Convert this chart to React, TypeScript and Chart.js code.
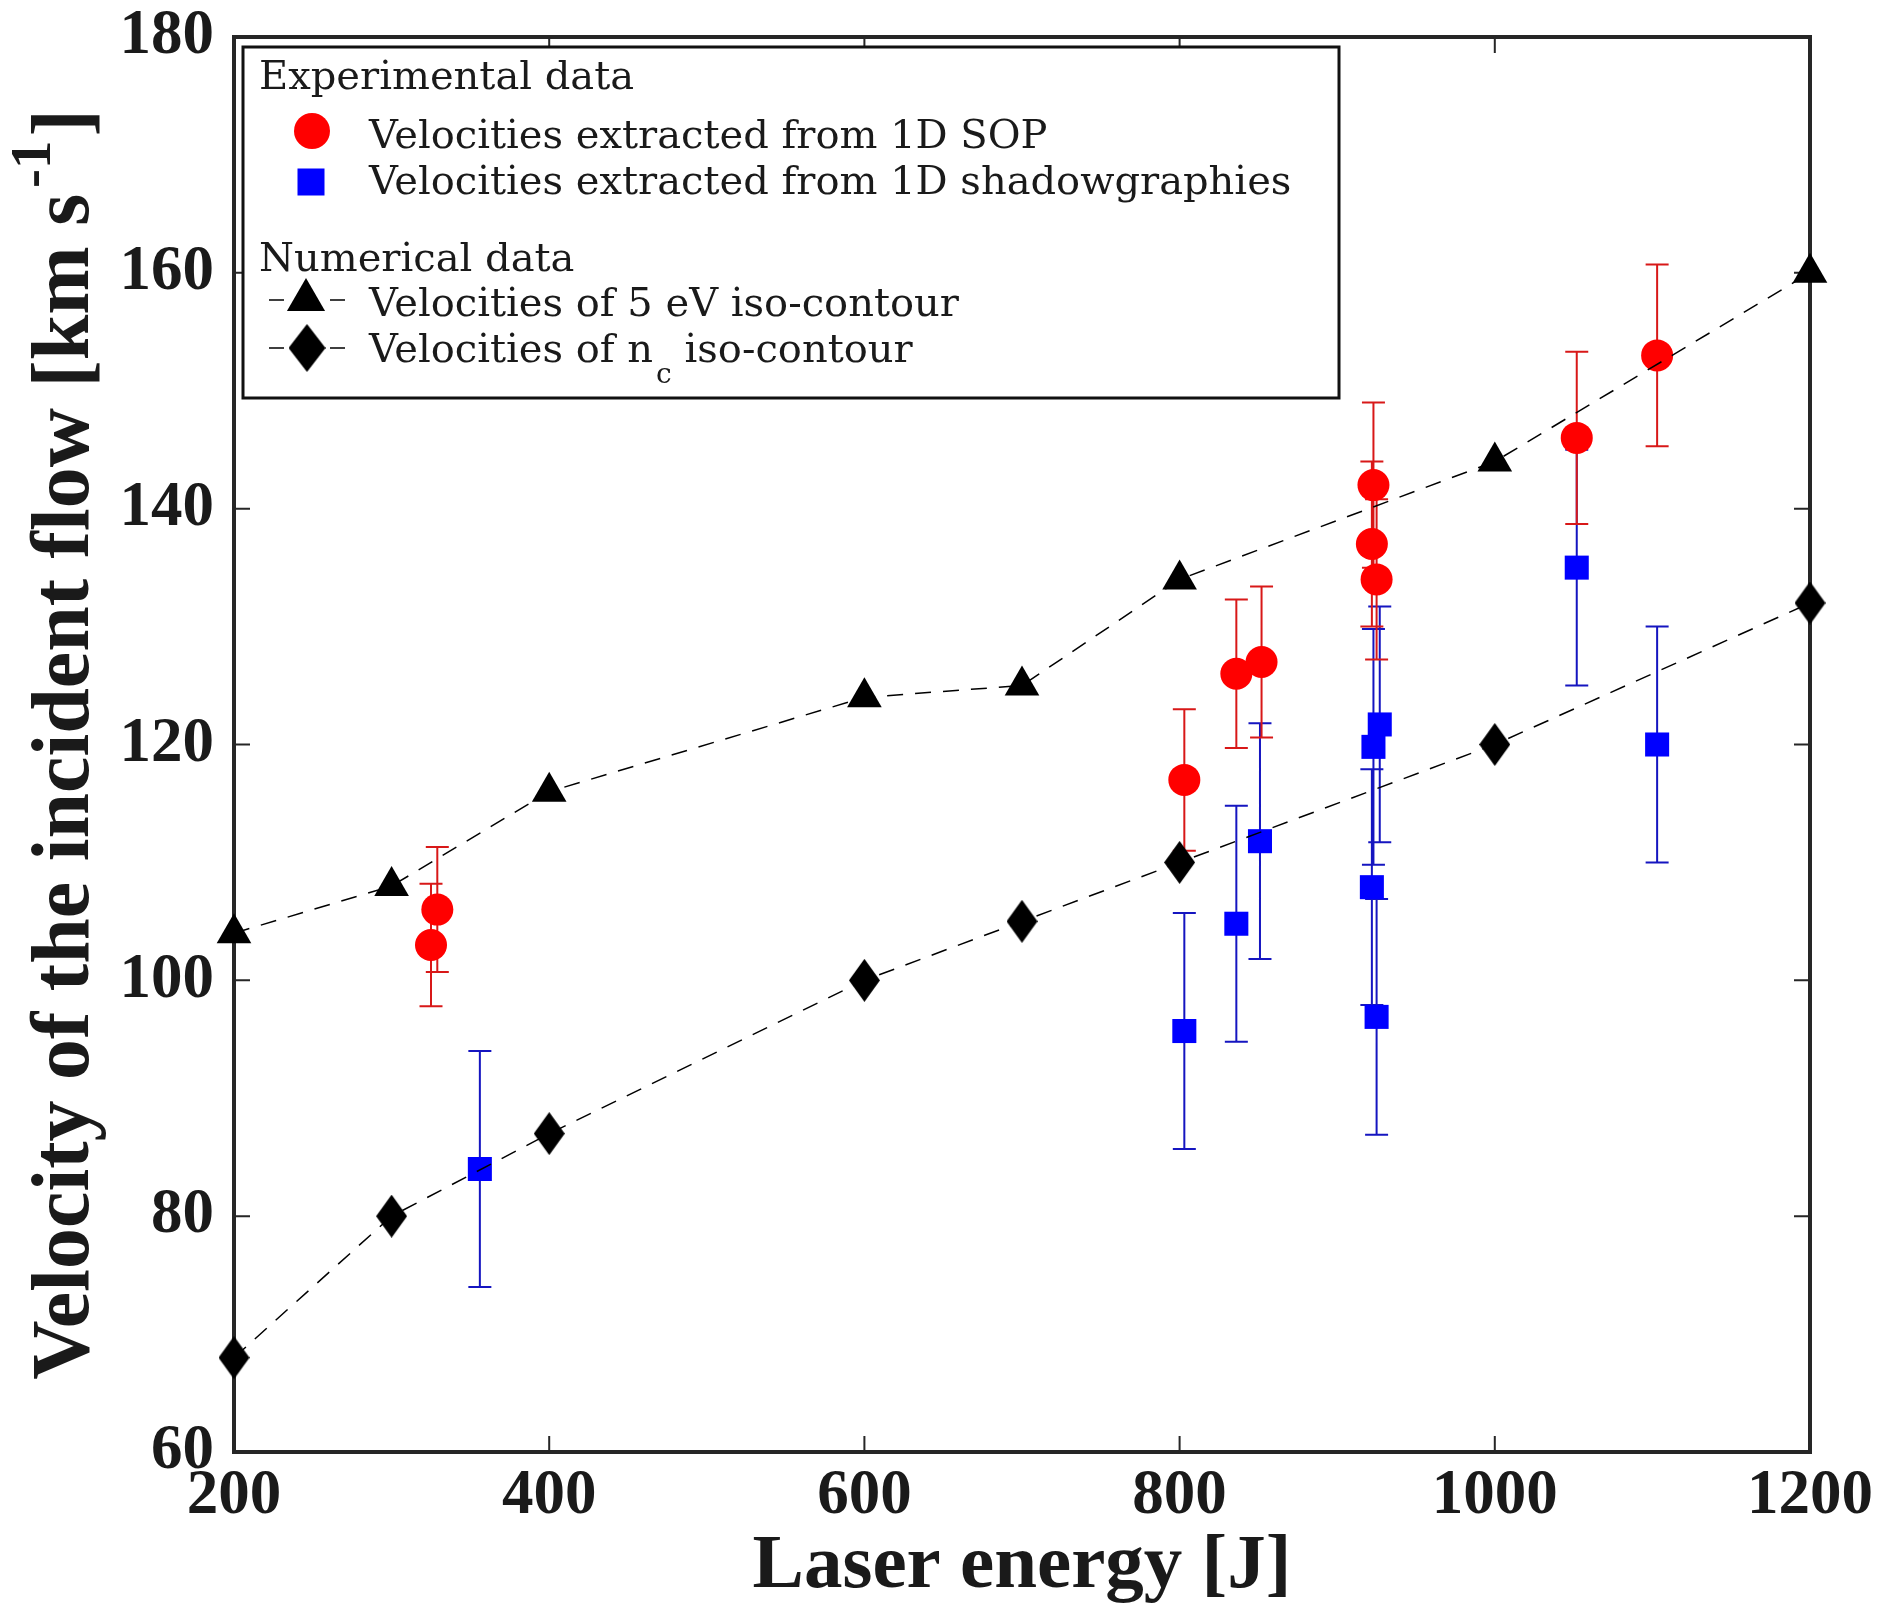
import { useEffect, useRef } from 'react';
import { Chart, registerables } from 'chart.js';

Chart.register(...registerables);

// Numerical data (simulation iso-contours)
const simEnergy = [200, 300, 400, 600, 700, 800, 1000, 1200];
const sim5eV = [104, 108, 116, 124, 125, 134, 144, 160];
const simNc = [68, 80, 87, 100, 105, 110, 120, 132];

// Experimental data: 1D SOP
const sopEnergy = [325, 329, 803, 836, 852, 923, 922, 925, 1052, 1103];
const sopVelocity = [103, 106, 117, 126, 127, 142, 137, 134, 146, 153];
const sopError = [5.2, 5.3, 6, 6.3, 6.4, 7, 7, 6.8, 7.3, 7.7];

// Experimental data: 1D shadowgraphies
const shadowEnergy = [356, 803, 836, 851, 923, 927, 922, 925, 1052, 1103];
const shadowVelocity = [84, 95.7, 104.8, 111.8, 119.8, 121.7, 107.9, 96.9, 135, 120];
const shadowError = [10, 10, 10, 10, 10, 10, 10, 10, 10, 10];

const xTicks = [200, 400, 600, 800, 1000, 1200];
const yTicks = [60, 80, 100, 120, 140, 160, 180];

const SERIF = '"Liberation Serif", "Times New Roman", serif';
const LEGEND_SERIF = '"DejaVu Serif", serif';
const INK = '#1a1a1a';

const toPoints = (xs: number[], ys: number[]) => xs.map((x, i) => ({ x, y: ys[i] }));

// tall diamond marker, like matlab's 'd'
function makeDiamond(w: number, h: number) {
  const c = document.createElement('canvas');
  c.width = w;
  c.height = h;
  const g = c.getContext('2d')!;
  g.fillStyle = '#000';
  g.beginPath();
  g.moveTo(w / 2, 0);
  g.lineTo(w, h / 2);
  g.lineTo(w / 2, h);
  g.lineTo(0, h / 2);
  g.closePath();
  g.fill();
  return c;
}

let legendDiamond: HTMLCanvasElement | null = null;

const framePlugin = {
  id: 'frameAndErrors',
  beforeDatasetsDraw(chart: any) {
    const { ctx, chartArea: a, scales } = chart;
    const xs = scales.x;
    const ys = scales.y;
    ctx.save();

    // axes box
    ctx.strokeStyle = '#262626';
    ctx.lineWidth = 4;
    ctx.strokeRect(a.left, a.top, a.right - a.left, a.bottom - a.top);

    // inward ticks on all four sides
    ctx.lineWidth = 2;
    ctx.beginPath();
    xTicks.forEach((v) => {
      const px = xs.getPixelForValue(v);
      ctx.moveTo(px, a.bottom);
      ctx.lineTo(px, a.bottom - 16);
      ctx.moveTo(px, a.top);
      ctx.lineTo(px, a.top + 16);
    });
    yTicks.forEach((v) => {
      const py = ys.getPixelForValue(v);
      ctx.moveTo(a.left, py);
      ctx.lineTo(a.left + 16, py);
      ctx.moveTo(a.right, py);
      ctx.lineTo(a.right - 16, py);
    });
    ctx.stroke();

    // error bars
    chart.data.datasets.forEach((ds: any) => {
      if (!ds.errorBars) return;
      ctx.strokeStyle = ds.errorColor;
      ctx.lineWidth = 2;
      ctx.beginPath();
      ds.data.forEach((p: { x: number; y: number }, i: number) => {
        const e = ds.errorBars[i];
        const px = xs.getPixelForValue(p.x);
        const top = ys.getPixelForValue(p.y + e);
        const bot = ys.getPixelForValue(p.y - e);
        ctx.moveTo(px, top);
        ctx.lineTo(px, bot);
        ctx.moveTo(px - 11.5, top);
        ctx.lineTo(px + 11.5, top);
        ctx.moveTo(px - 11.5, bot);
        ctx.lineTo(px + 11.5, bot);
      });
      ctx.stroke();
    });
    ctx.restore();
  },
};

const titlesAndLegend = {
  id: 'titlesAndLegend',
  afterDraw(chart: any) {
    const { ctx, chartArea: a } = chart;
    if (!legendDiamond) legendDiamond = makeDiamond(37, 48);
    const diamond = legendDiamond;
    ctx.save();
    ctx.fillStyle = INK;
    ctx.textBaseline = 'alphabetic';

    // x title
    ctx.font = `bold 77px ${SERIF}`;
    ctx.textAlign = 'center';
    ctx.fillText('Laser energy [J]', (a.left + a.right) / 2, 1587);

    // y title with superscript
    ctx.save();
    ctx.translate(88, (a.top + a.bottom) / 2);
    ctx.rotate(-Math.PI / 2);
    ctx.textAlign = 'left';
    const main = 'Velocity of the incident flow [km s';
    ctx.font = `bold 82px ${SERIF}`;
    const w1 = ctx.measureText(main).width;
    const w3 = ctx.measureText(']').width;
    ctx.font = `bold 57px ${SERIF}`;
    const w2 = ctx.measureText('-1').width;
    let cx = -(w1 + 6 + w2 + 4 + w3) / 2;
    ctx.font = `bold 82px ${SERIF}`;
    ctx.fillText(main, cx, 0);
    cx += w1 + 6;
    ctx.font = `bold 57px ${SERIF}`;
    ctx.fillText('-1', cx, -38);
    cx += w2 + 4;
    ctx.font = `bold 82px ${SERIF}`;
    ctx.fillText(']', cx, 0);
    ctx.restore();

    // legend box
    ctx.fillStyle = '#fff';
    ctx.fillRect(243, 47, 1096, 351);
    ctx.strokeStyle = '#111';
    ctx.lineWidth = 3;
    ctx.strokeRect(243, 47, 1096, 351);

    ctx.fillStyle = INK;
    ctx.textAlign = 'left';
    ctx.font = `40px ${LEGEND_SERIF}`;
    ctx.fillText('Experimental data', 259, 89);
    ctx.fillText('Velocities extracted from 1D SOP', 369, 148);
    ctx.fillText('Velocities extracted from 1D shadowgraphies', 369, 194);
    ctx.fillText('Numerical data', 259, 271);
    ctx.fillText('Velocities of 5 eV iso-contour', 369, 316);
    const pre = 'Velocities of n';
    ctx.fillText(pre, 369, 362);
    const wp = ctx.measureText(pre).width;
    ctx.font = `28px ${LEGEND_SERIF}`;
    ctx.fillText('c', 369 + wp + 3, 383);
    const wc = ctx.measureText('c').width;
    ctx.font = `40px ${LEGEND_SERIF}`;
    ctx.fillText(' iso-contour', 369 + wp + 3 + wc, 362);

    // legend markers
    ctx.fillStyle = '#ff0000';
    ctx.beginPath();
    ctx.arc(312, 131, 18, 0, Math.PI * 2);
    ctx.fill();
    ctx.fillStyle = '#0000ff';
    ctx.fillRect(311 - 13.5, 182 - 13.5, 27, 27);

    ctx.strokeStyle = '#000';
    ctx.lineWidth = 1.5;
    ctx.beginPath();
    [300, 348].forEach((yy) => {
      ctx.moveTo(269, yy);
      ctx.lineTo(284, yy);
      ctx.moveTo(330, yy);
      ctx.lineTo(345, yy);
    });
    ctx.stroke();

    ctx.fillStyle = '#000';
    const r = 22;
    ctx.beginPath();
    ctx.moveTo(306, 300 - r);
    ctx.lineTo(306 + r * 0.866, 300 + r / 2);
    ctx.lineTo(306 - r * 0.866, 300 + r / 2);
    ctx.closePath();
    ctx.fill();
    ctx.drawImage(diamond, 307 - diamond.width / 2, 348 - diamond.height / 2);

    ctx.restore();
  },
};

export default function App() {
  const canvasRef = useRef<HTMLCanvasElement | null>(null);

  useEffect(() => {
    document.body.style.margin = '0';
    if (!canvasRef.current) return;

    const diamond = makeDiamond(31, 43);

    const chart: any = new Chart(canvasRef.current, {
      type: 'line',
      data: {
        datasets: [
          {
            label: 'Velocities of 5 eV iso-contour',
            data: toPoints(simEnergy, sim5eV),
            borderColor: '#000',
            borderWidth: 1.5,
            borderDash: [16, 12],
            pointStyle: 'triangle',
            pointRadius: 20,
            pointBackgroundColor: '#000',
            pointBorderWidth: 0,
            clip: false,
            order: 0,
          },
          {
            label: 'Velocities of n_c iso-contour',
            data: toPoints(simEnergy, simNc),
            borderColor: '#000',
            borderWidth: 1.5,
            borderDash: [16, 12],
            pointStyle: diamond,
            pointRadius: 20,
            pointBorderWidth: 0,
            clip: false,
            order: 1,
          },
          {
            type: 'scatter',
            label: 'Velocities extracted from 1D shadowgraphies',
            data: toPoints(shadowEnergy, shadowVelocity),
            errorBars: shadowError,
            errorColor: '#1515c0',
            pointStyle: 'rect',
            pointRadius: 17,
            backgroundColor: '#0000ff',
            borderWidth: 0,
            showLine: false,
            clip: false,
            order: 2,
          } as any,
          {
            type: 'scatter',
            label: 'Velocities extracted from 1D SOP',
            data: toPoints(sopEnergy, sopVelocity),
            errorBars: sopError,
            errorColor: '#d81818',
            pointStyle: 'circle',
            pointRadius: 16,
            backgroundColor: '#ff0000',
            borderWidth: 0,
            showLine: false,
            clip: false,
            order: 3,
          } as any,
        ],
      },
      options: {
        animation: false,
        responsive: true,
        maintainAspectRatio: false,
        events: [],
        layout: { padding: { top: 37, right: 80, left: 0, bottom: 0 } },
        scales: {
          x: {
            type: 'linear',
            min: xTicks[0],
            max: xTicks[xTicks.length - 1],
            afterBuildTicks: (scale: any) => {
              scale.ticks = xTicks.map((value) => ({ value }));
            },
            afterFit: (scale: any) => {
              scale.height = 164;
              scale.paddingLeft = 0;
              scale.paddingRight = 0;
            },
            grid: { display: false, drawTicks: false },
            border: { display: false },
            ticks: {
              padding: 13,
              maxRotation: 0,
              color: INK,
              callback: (v: number) => String(v),
              font: { family: SERIF, size: 63, weight: 'bold', lineHeight: 1 },
            },
          },
          y: {
            type: 'linear',
            min: yTicks[0],
            max: yTicks[yTicks.length - 1],
            afterBuildTicks: (scale: any) => {
              scale.ticks = yTicks.map((value) => ({ value }));
            },
            afterFit: (scale: any) => {
              scale.width = 234;
              scale.paddingTop = 0;
              scale.paddingBottom = 0;
            },
            grid: { display: false, drawTicks: false },
            border: { display: false },
            ticks: {
              padding: 20,
              color: INK,
              callback: (v: number) => String(v),
              font: { family: SERIF, size: 63, weight: 'bold', lineHeight: 1 },
            },
          },
        },
        plugins: {
          legend: { display: false },
          tooltip: { enabled: false },
        },
      },
      plugins: [framePlugin, titlesAndLegend],
    } as any);

    return () => chart.destroy();
  }, []);

  return (
    <div style={{ width: 1890, height: 1616, position: 'relative', background: '#fff' }}>
      <canvas ref={canvasRef} />
    </div>
  );
}
